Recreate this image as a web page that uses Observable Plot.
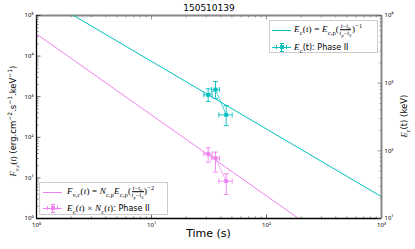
<!DOCTYPE html>
<html><head><meta charset="utf-8">
<script src="https://cdn.jsdelivr.net/npm/d3@7"></script>
<script src="https://cdn.jsdelivr.net/npm/@observablehq/plot@0.6"></script>
<style>
body{margin:0;background:#fff;font-family:"DejaVu Sans",sans-serif;}
#wrap{position:relative;width:415px;height:249px;overflow:hidden;background:#fff;}
#wrap svg{position:absolute;left:0;top:0;}
.m{font-family:"Liberation Serif",serif;}
.m i{font-style:italic;}
.fm{font-size:9px;letter-spacing:0.2px;}
sub,sup{font-size:70%;line-height:0;}
.frac{display:inline-flex;flex-direction:column;font-size:6px;vertical-align:middle;line-height:1.05;text-align:center;margin:0 0.5px;}
.frac>span:first-child{border-bottom:0.5px solid #000;}
.leg{position:absolute;border:1px solid #ccc;background:rgba(255,255,255,0.85);box-sizing:border-box;}
.row{position:absolute;left:0;height:0;}
.txt{position:absolute;white-space:nowrap;font-size:8px;transform:translateY(-50%);top:0;}
.sw{position:absolute;top:0;}
.lab{position:absolute;white-space:nowrap;transform-origin:center center;}
</style></head><body><div id="wrap"></div><script>
// ---- data ----
const title = "150510139";
const phaseT   = [31.1, 36.0, 44.6];
const phaseTLo = [28.5, 33.2, 38.5];
const phaseTHi = [33.7, 39.0, 50.3];
const ecVal = [671, 804, 340];
const ecLo  = [535, 593, 236];
const ecHi  = [824, 1056, 467];
const fluxVal = [39.2, 30.6, 8.3];
const fluxLo  = [24.4, 13.8, 3.9];
const fluxHi  = [55, 43, 12.6];
const ecFitT = [2.1, 1000];
const ecFitE = [10000, 21];
const fluxFitT = [1, 190];
const fluxFitF = [35000, 1];
const xMajor = [1, 10, 100, 1000];
const yLeftMajor = [1, 10, 100, 1000, 10000, 100000];
const yRightMajor = [10, 100, 1000, 10000];

const CYAN = "#00bfbf", MAG = "#ee82ee";
const minorOf = (maj) => maj.slice(0, -1).flatMap(d => [2,3,4,5,6,7,8,9].map(k => d * k));
const sup = {"0":"⁰","1":"¹","2":"²","3":"³","4":"⁴","5":"⁵","-":"⁻"};
const fmt = d => "10" + String(Math.round(Math.log10(d))).split("").map(c => sup[c]).join("");
const seg = (dx, dy) => ({draw(ctx){ctx.moveTo(0,0); ctx.lineTo(dx,dy);}});
const cap = (dx, dy) => ({draw(ctx){ctx.moveTo(-dx,-dy); ctx.lineTo(dx,dy);}});
const capH = cap(2.5, 0), capV = cap(0, 2.5);
const idx = phaseT.map((_, i) => i);

const common = {width:415, height:249, marginTop:15, marginRight:34, marginBottom:31, marginLeft:36,
  x:{type:"log", domain:[1,1000], axis:null},
  style:{background:"transparent", overflow:"visible"}};

function series(yv, ylo, yhi, fitT, fitY, color){
  return [
    Plot.line(fitT.map((_, i) => i), {x: fitT, y: fitY, stroke: color, strokeWidth: 1, clip: true}),
    Plot.line(idx, {x: phaseT, y: yv, stroke: color, strokeWidth: 0.7}),
    Plot.ruleX(idx, {x: phaseT, y1: ylo, y2: yhi, stroke: color, strokeWidth: 0.9}),
    Plot.ruleY(idx, {y: yv, x1: phaseTLo, x2: phaseTHi, stroke: color, strokeWidth: 0.9}),
    Plot.dot(idx, {x: phaseT, y: ylo, symbol: capH, stroke: color, fill: "none", strokeWidth: 0.9}),
    Plot.dot(idx, {x: phaseT, y: yhi, symbol: capH, stroke: color, fill: "none", strokeWidth: 0.9}),
    Plot.dot(idx, {x: phaseTLo, y: yv, symbol: capV, stroke: color, fill: "none", strokeWidth: 0.9}),
    Plot.dot(idx, {x: phaseTHi, y: yv, symbol: capV, stroke: color, fill: "none", strokeWidth: 0.9}),
    Plot.dot(idx, {x: phaseT, y: yv, symbol: "square", r: 2.2, fill: color, stroke: "none"})
  ];
}

const p1 = Plot.plot({...common,
  y:{type:"log", domain:[1,1e5], axis:null},
  marks:[
    ...series(fluxVal, fluxLo, fluxHi, fluxFitT, fluxFitF, MAG),
    Plot.ruleY([1e5], {stroke:"#888", strokeWidth:2}),
    Plot.ruleX([1], {stroke:"#000", strokeWidth:1.3}),
    Plot.ruleY([1], {stroke:"#000", strokeWidth:1.3}),
    Plot.dot(xMajor, {x: d => d, frameAnchor:"bottom", symbol: seg(0,-4), stroke:"#000", fill:"none", strokeWidth:0.6}),
    Plot.dot(minorOf(xMajor), {x: d => d, frameAnchor:"bottom", symbol: seg(0,-2), stroke:"#000", fill:"none", strokeWidth:0.5}),
    Plot.dot(xMajor, {x: d => d, frameAnchor:"top", symbol: seg(0,4), stroke:"#555", fill:"none", strokeWidth:0.6}),
    Plot.dot(minorOf(xMajor), {x: d => d, frameAnchor:"top", symbol: seg(0,2), stroke:"#555", fill:"none", strokeWidth:0.5}),
    Plot.dot(yLeftMajor, {y: d => d, frameAnchor:"left", symbol: seg(4,0), stroke:"#000", fill:"none", strokeWidth:0.6}),
    Plot.dot(minorOf(yLeftMajor), {y: d => d, frameAnchor:"left", symbol: seg(2,0), stroke:"#000", fill:"none", strokeWidth:0.5}),
    Plot.text(xMajor, {x: d => d, frameAnchor:"bottom", dy: 8, text: fmt, fontSize: 6, fill:"#000"}),
    Plot.text(yLeftMajor, {y: d => d, frameAnchor:"left", dx: -3, textAnchor:"end", text: fmt, fontSize: 6, fill:"#000"})
  ]});

const p2 = Plot.plot({...common,
  y:{type:"log", domain:[10,1e4], axis:null},
  marks:[
    ...series(ecVal, ecLo, ecHi, ecFitT, ecFitE, CYAN),
    Plot.ruleX([1000], {stroke:"#888", strokeWidth:2}),
    Plot.dot(yRightMajor, {y: d => d, frameAnchor:"right", symbol: seg(-4,0), stroke:"#555", fill:"none", strokeWidth:0.6}),
    Plot.dot(minorOf(yRightMajor), {y: d => d, frameAnchor:"right", symbol: seg(-2,0), stroke:"#555", fill:"none", strokeWidth:0.5}),
    Plot.text(yRightMajor, {y: d => d, frameAnchor:"right", dx: 3, textAnchor:"start", text: fmt, fontSize: 6, fill:"#000"})
  ]});

const wrap = document.getElementById("wrap");
wrap.appendChild(p1);
wrap.appendChild(p2);

const frac = '<span class="frac"><span><i>t</i>−<i>t</i><sub>0</sub></span><span><i>t</i><sub>p</sub>−<i>t</i><sub>0</sub></span></span>';
const html = `
<div class="lab" style="left:0;top:3px;width:415px;text-align:center;padding-left:3px;box-sizing:border-box;font-size:9px;">${title}</div>
<div class="lab" style="left:0;top:227px;width:415px;text-align:center;padding-left:2px;box-sizing:border-box;font-size:11px;">Time (s)</div>
<div class="lab" style="left:13px;top:121px;font-size:8.5px;transform:translate(-50%,-50%) rotate(-90deg);"><span class="m"><i>F</i><sub><i>ν,c</i></sub>(<i>t</i>)</span> (erg.cm<sup>−2</sup>.s<sup>−1</sup>.keV<sup>−1</sup>)</div>
<div class="lab" style="left:404px;top:116px;font-size:8.5px;transform:translate(-50%,-50%) rotate(-90deg);"><span class="m"><i>E</i><sub>c</sub></span>(t) (keV)</div>
<div class="leg" style="left:269px;top:20px;width:109px;height:33px;">
  <div class="row" style="top:9px;">
    <div class="sw" style="left:2px;width:19px;height:1px;margin-top:-0.5px;background:${CYAN};"></div>
    <div class="txt" style="left:24px;"><span class="m fm"><i>E</i><sub>c</sub>(<i>t</i>) = <i>E</i><sub>c,p</sub>(${frac})<sup>−1</sup></span></div>
  </div>
  <div class="row" style="top:26px;">
    <div class="sw" style="left:2px;width:19px;height:1px;margin-top:-0.5px;background:${CYAN};"></div>
    <div class="sw" style="left:11px;width:1px;height:9px;margin-top:-4.5px;background:${CYAN};"></div>
    <div class="sw" style="left:9.5px;width:4px;height:1px;margin-top:-4.5px;background:${CYAN};"></div>
    <div class="sw" style="left:9.5px;width:4px;height:1px;margin-top:3.5px;background:${CYAN};"></div>
    <div class="sw" style="left:6px;width:1px;height:4px;margin-top:-2px;background:${CYAN};"></div>
    <div class="sw" style="left:16px;width:1px;height:4px;margin-top:-2px;background:${CYAN};"></div>
    <div class="sw" style="left:9.5px;width:4px;height:4px;margin-top:-2px;background:${CYAN};"></div>
    <div class="txt" style="left:24px;"><span class="m fm"><i>E</i><sub>c</sub></span>(t): Phase II</div>
  </div>
</div>
<div class="leg" style="left:39px;top:182px;width:129px;height:33px;">
  <div class="row" style="top:9px;">
    <div class="sw" style="left:3px;width:19px;height:1px;margin-top:-0.5px;background:${MAG};"></div>
    <div class="txt" style="left:27px;"><span class="m fm"><i>F</i><sub><i>ν,c</i></sub>(<i>t</i>) = <i>N</i><sub>c,p</sub><i>E</i><sub>c,p</sub>(${frac})<sup>−2</sup></span></div>
  </div>
  <div class="row" style="top:25px;">
    <div class="sw" style="left:3px;width:19px;height:1px;margin-top:-0.5px;background:${MAG};"></div>
    <div class="sw" style="left:12px;width:1px;height:9px;margin-top:-4.5px;background:${MAG};"></div>
    <div class="sw" style="left:10.5px;width:4px;height:1px;margin-top:-4.5px;background:${MAG};"></div>
    <div class="sw" style="left:10.5px;width:4px;height:1px;margin-top:3.5px;background:${MAG};"></div>
    <div class="sw" style="left:7px;width:1px;height:4px;margin-top:-2px;background:${MAG};"></div>
    <div class="sw" style="left:17px;width:1px;height:4px;margin-top:-2px;background:${MAG};"></div>
    <div class="sw" style="left:10.5px;width:4px;height:4px;margin-top:-2px;background:${MAG};"></div>
    <div class="txt" style="left:27px;"><span class="m fm"><i>E</i><sub>c</sub>(<i>t</i>) × <i>N</i><sub>c</sub>(<i>t</i>)</span>: Phase II</div>
  </div>
</div>`;
wrap.insertAdjacentHTML("beforeend", html);
</script></body></html>
